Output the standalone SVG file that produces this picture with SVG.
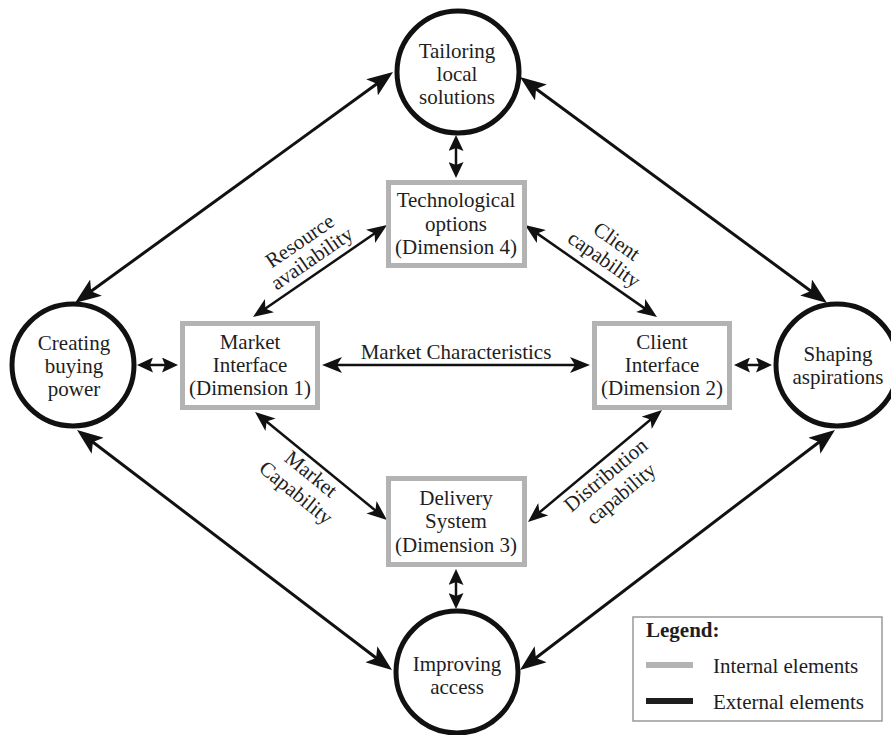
<svg xmlns="http://www.w3.org/2000/svg" width="891" height="735" viewBox="0 0 891 735">
<style>
text{font-family:"Liberation Serif","Times New Roman",serif;font-size:21px;fill:#1e1e1e}
.c{text-anchor:middle}
.circ{fill:#fff;stroke:#111;stroke-width:5}
.box{fill:#fff;stroke:#b3b3b3;stroke-width:5}
.outer{stroke:#111;stroke-width:3;fill:none;marker-start:url(#big);marker-end:url(#big)}
.inner{stroke:#111;stroke-width:2.5;fill:none;marker-start:url(#small);marker-end:url(#small)}
.short{stroke:#111;stroke-width:2.5;fill:none;marker-start:url(#tiny);marker-end:url(#tiny)}
</style>
<defs>
<marker id="big" markerUnits="userSpaceOnUse" viewBox="0 0 26 20" markerWidth="26" markerHeight="20" refX="21" refY="10" orient="auto-start-reverse">
<path d="M0,0 L26,10 L0,20 L6,10 z" fill="#111"/>
</marker>
<marker id="small" markerUnits="userSpaceOnUse" viewBox="0 0 20 16" markerWidth="20" markerHeight="16" refX="15" refY="8" orient="auto-start-reverse">
<path d="M0,0 L20,8 L0,16 L5,8 z" fill="#111"/>
</marker>
<marker id="tiny" markerUnits="userSpaceOnUse" viewBox="0 0 16 15" markerWidth="16" markerHeight="15" refX="12" refY="7.5" orient="auto-start-reverse">
<path d="M0,0 L16,7.5 L0,15 L3,7.5 z" fill="#111"/>
</marker>
</defs>
<rect width="891" height="735" fill="#fff"/>
<g id="connectors">
<line class="outer" x1="79" y1="300" x2="389" y2="75"/>
<line class="outer" x1="524" y1="80" x2="823" y2="300"/>
<line class="outer" x1="81" y1="433" x2="388" y2="667"/>
<line class="outer" x1="831" y1="433" x2="524" y2="667"/>
<line class="inner" x1="257.1" y1="314.2" x2="382.9" y2="227.8"/>
<line class="inner" x1="529.1" y1="227.9" x2="652.9" y2="314.1"/>
<line class="inner" x1="258.9" y1="415.2" x2="383.1" y2="516.8"/>
<line class="inner" x1="531.8" y1="518.8" x2="658.2" y2="413.2"/>
<line class="short" x1="456" y1="139" x2="456" y2="174"/>
<line class="short" x1="456" y1="573" x2="456" y2="605"/>
<line class="short" x1="141" y1="365" x2="174" y2="365"/>
<line class="short" x1="738" y1="365" x2="768" y2="365"/>
<line class="inner" x1="327" y1="365" x2="585" y2="365"/>
<text class="c" x="456" y="359">Market Characteristics</text>
<text class="c" transform="translate(306,250) rotate(-34.5)"><tspan x="0" y="-4">Resource</tspan><tspan x="0" y="17">availability</tspan></text>
<text class="c" transform="translate(610,251) rotate(35)"><tspan x="0" y="-5">Client</tspan><tspan x="0" y="17">capability</tspan></text>
<text class="c" transform="translate(303,484) rotate(39)"><tspan x="0" y="-6">Market</tspan><tspan x="0" y="18">Capability</tspan></text>
<text class="c" transform="translate(614,485) rotate(-40)"><tspan x="0" y="-6">Distribution</tspan><tspan x="0" y="18">capability</tspan></text>
</g>
<g id="tailoring">
<circle class="circ" cx="458" cy="72" r="61"/>
<text class="c" x="457" y="58">Tailoring</text>
<text class="c" x="457" y="81">local</text>
<text class="c" x="457" y="104">solutions</text>
</g>
<g id="creating">
<circle class="circ" cx="73" cy="365" r="61"/>
<text class="c" x="74" y="350">Creating</text>
<text class="c" x="74" y="373">buying</text>
<text class="c" x="74" y="396">power</text>
</g>
<g id="shaping">
<circle class="circ" cx="837" cy="365" r="61"/>
<text class="c" x="838" y="361">Shaping</text>
<text class="c" x="838" y="384">aspirations</text>
</g>
<g id="improving">
<circle class="circ" cx="457" cy="672" r="61"/>
<text class="c" x="457" y="671">Improving</text>
<text class="c" x="457" y="694">access</text>
</g>
<g id="tech">
<rect class="box" x="388.5" y="182.5" width="136" height="83"/>
<text class="c" x="456" y="207">Technological</text>
<text class="c" x="456" y="231">options</text>
<text class="c" x="456" y="254">(Dimension 4)</text>
</g>
<g id="market">
<rect class="box" x="182.5" y="323.5" width="135" height="84"/>
<text class="c" x="250" y="349">Market</text>
<text class="c" x="250" y="372">Interface</text>
<text class="c" x="250" y="395">(Dimension 1)</text>
</g>
<g id="client">
<rect class="box" x="594.5" y="323.5" width="135" height="84"/>
<text class="c" x="662" y="349">Client</text>
<text class="c" x="662" y="372">Interface</text>
<text class="c" x="662" y="395">(Dimension 2)</text>
</g>
<g id="delivery">
<rect class="box" x="388.5" y="478.5" width="136" height="86"/>
<text class="c" x="456" y="505">Delivery</text>
<text class="c" x="456" y="528">System</text>
<text class="c" x="456" y="552">(Dimension 3)</text>
</g>
<g id="legend">
<rect x="633" y="617" width="249" height="104" fill="#fff" stroke="#999" stroke-width="1.5"/>
<text x="646" y="637" font-weight="bold">Legend:</text>
<line x1="646" y1="665" x2="693" y2="665" stroke="#b3b3b3" stroke-width="6"/>
<text x="713" y="673">Internal elements</text>
<line x1="646" y1="701" x2="693" y2="701" stroke="#1e1e1e" stroke-width="6"/>
<text x="713" y="709">External elements</text>
</g>
</svg>
